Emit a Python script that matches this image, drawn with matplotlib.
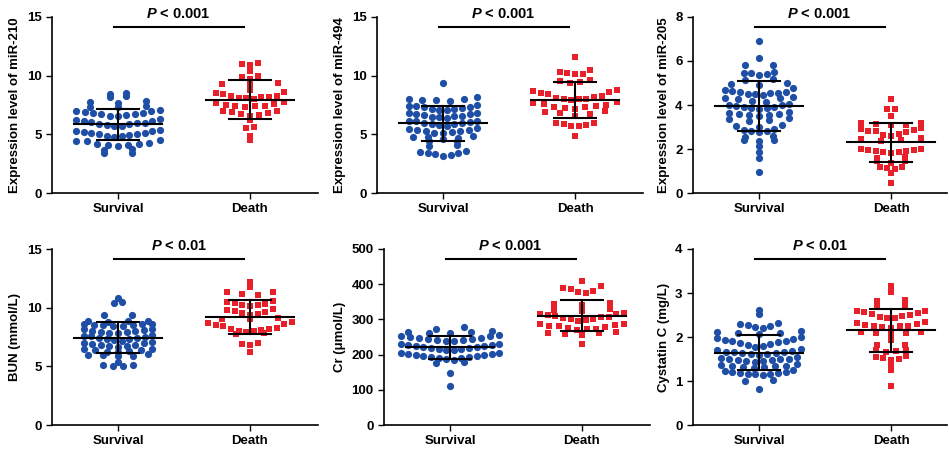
import numpy as np
import matplotlib.pyplot as plt

plt.rcParams['font.family'] = ['Liberation Sans', 'DejaVu Sans']
plt.rcParams['font.weight'] = 'bold'
plt.rcParams['axes.labelweight'] = 'bold'
plt.rcParams['mathtext.fontset'] = 'custom'
plt.rcParams['mathtext.it'] = 'Liberation Sans:italic:bold'
plt.rcParams['mathtext.rm'] = 'Liberation Sans:bold'

groups = ['Survival', 'Death']

# values (one line per visible row of dots)
mir210_surv = [3.4, 3.45,
               3.7, 3.75,
               4.0, 4.05, 4.1, 4.15, 4.2, 4.3, 4.4, 4.45, 4.5,
               4.8, 4.85, 4.9, 4.95, 5.0, 5.05, 5.1, 5.15, 5.2, 5.25, 5.3, 5.4,
               5.7, 5.75, 5.8, 5.85, 5.9, 5.95, 6.0, 6.05, 6.1, 6.15, 6.2, 6.3,
               6.55, 6.6, 6.65, 6.7, 6.75, 6.8, 6.85, 6.9, 6.95, 7.0, 7.05,
               7.3, 7.35, 7.4,
               7.7, 7.75, 7.8,
               8.2, 8.3, 8.45, 8.5]
mir210_death = [4.5, 4.7, 4.9,
                5.5, 5.6,
                6.2,
                6.6, 6.65, 6.75, 6.8, 6.9, 6.95, 7.0,
                7.35, 7.4, 7.4, 7.45, 7.5, 7.55, 7.65, 7.75,
                8.05, 8.1, 8.1, 8.15, 8.2, 8.25, 8.3, 8.4, 8.5, 8.6,
                8.8,
                9.2, 9.25, 9.35,
                9.7, 9.85, 9.95,
                10.4, 10.55,
                10.95, 11.0, 11.1]

mir494_surv = [3.15, 3.25, 3.3, 3.4, 3.4, 3.5, 3.55,
               4.0, 4.05,
               4.4, 4.45, 4.6, 4.65, 4.75, 4.8, 4.85,
               5.1, 5.15, 5.2, 5.25, 5.3, 5.35, 5.4, 5.45, 5.5,
               5.75, 5.8, 5.85, 5.9, 5.95, 6.0, 6.05, 6.1, 6.15, 6.15,
               6.4, 6.45, 6.5, 6.55, 6.6, 6.65, 6.7, 6.75, 6.8, 6.8,
               7.05, 7.1, 7.15, 7.2, 7.25, 7.3, 7.35, 7.4, 7.45, 7.5,
               7.8, 7.9, 7.95, 8.0, 8.05, 8.15,
               9.4]
mir494_death = [4.9,
                5.7, 5.7, 5.8, 5.9, 6.0, 6.0,
                6.6, 6.7, 6.8, 6.9, 7.0,
                7.2, 7.25, 7.3, 7.35, 7.4, 7.5, 7.6, 7.7, 7.75,
                7.95, 8.0, 8.0, 8.05, 8.1, 8.2, 8.3, 8.4, 8.5, 8.6, 8.7, 8.8,
                9.4, 9.45, 9.55, 9.65,
                10.1, 10.15, 10.25, 10.35, 10.45,
                11.6]

mir205_surv = [0.95, 1.6, 1.85, 2.15,
               2.35, 2.4, 2.4,
               2.55, 2.6,
               2.75, 2.8, 2.8, 2.85, 2.9,
               3.0, 3.05, 3.1,
               3.25, 3.3, 3.35, 3.4,
               3.5, 3.55, 3.55, 3.6, 3.6, 3.65, 3.7,
               3.8, 3.85, 3.85, 3.9, 3.9, 3.95, 4.0, 4.0, 4.05,
               4.15, 4.2, 4.25, 4.3, 4.3, 4.35,
               4.45, 4.5, 4.5, 4.55, 4.55, 4.6, 4.6, 4.65, 4.7, 4.75,
               4.9, 4.95, 5.0,
               5.15, 5.2,
               5.35, 5.4, 5.45, 5.45, 5.5,
               5.8, 5.8, 6.15, 6.9]
mir205_death = [0.45, 0.9,
                1.1, 1.15, 1.2, 1.2,
                1.35, 1.45, 1.45,
                1.6, 1.65,
                1.8, 1.85, 1.85, 1.9, 1.9, 1.95, 1.95, 2.0, 2.0,
                2.35, 2.4, 2.45, 2.5,
                2.6, 2.65, 2.7, 2.75, 2.8, 2.8, 2.85, 2.9, 2.95,
                3.1, 3.1, 3.15, 3.2, 3.2,
                3.5, 3.8, 3.8, 4.25]

bun_surv = [5.0, 5.05, 5.1, 5.1,
            5.4,
            5.85, 5.9, 5.95, 6.0, 6.05,
            6.2, 6.25, 6.3, 6.35, 6.4, 6.45, 6.5,
            6.65, 6.7, 6.75, 6.8, 6.85, 6.9, 6.95, 7.0, 7.05,
            7.2, 7.25, 7.3, 7.35, 7.4, 7.45, 7.5, 7.55, 7.6, 7.65,
            7.8, 7.85, 7.9, 7.95, 8.0, 8.05, 8.1, 8.15, 8.2,
            8.4, 8.45, 8.5, 8.5, 8.55, 8.6, 8.6, 8.65,
            8.8, 8.85, 8.9, 8.9,
            9.4, 9.4,
            10.4, 10.5,
            10.85]
bun_death = [6.2,
             6.8, 6.9, 6.95,
             7.75, 7.8,
             7.95, 8.0, 8.05, 8.1, 8.15, 8.2, 8.3, 8.4, 8.5, 8.6, 8.7, 8.8,
             9.0, 9.05, 9.1,
             9.4, 9.5, 9.55, 9.6, 9.7, 9.8, 9.9,
             10.1, 10.2, 10.25, 10.3, 10.4, 10.5, 10.6,
             11.1, 11.2, 11.3, 11.35,
             11.8, 12.15]

cr_surv = [112, 147, 175, 178,
           186, 187.5, 189, 190.5, 192, 193.5, 195, 196.5, 198, 199.5, 201, 202.5, 204, 205.5,
           212, 213.5, 215, 216.5, 218, 219.5, 221, 222.5, 224, 225.5, 227, 228.5, 230, 231.5,
           238, 239.5, 241, 242.5, 244, 245.5, 247, 248.5, 250, 251.5, 253, 254.5,
           260, 261.5, 263, 264.5, 266,
           274, 278]
cr_death = [229,
            256, 258, 260, 262, 264,
            270, 272, 274, 276, 278, 280, 282, 284, 286, 288,
            296, 298, 300, 302, 304, 306, 308, 310, 312, 314, 316, 318,
            324, 327, 330,
            340, 344, 348,
            374, 378, 382, 386, 390, 394,
            409]

cysc_surv = [0.82, 1.0, 1.02,
             1.14, 1.15, 1.16, 1.17, 1.18, 1.19, 1.2, 1.21, 1.22, 1.24,
             1.3, 1.31, 1.32, 1.33, 1.34, 1.35, 1.36, 1.38,
             1.44, 1.45, 1.46, 1.47, 1.48, 1.49, 1.5, 1.51, 1.52, 1.54,
             1.6, 1.61, 1.62, 1.63, 1.64, 1.65, 1.66, 1.67, 1.68, 1.7, 1.72,
             1.78, 1.8, 1.82, 1.84, 1.86, 1.88, 1.9, 1.92, 1.94, 1.96, 1.98, 2.0,
             2.06, 2.08, 2.1, 2.12, 2.14,
             2.21, 2.23, 2.25, 2.27, 2.29, 2.31,
             2.52, 2.61]
cysc_death = [0.89, 1.25, 1.36,
              1.48, 1.5, 1.52, 1.54, 1.57,
              1.66, 1.68, 1.7, 1.7,
              1.82, 1.82,
              1.93,
              2.06, 2.08, 2.1, 2.12, 2.12,
              2.2, 2.22, 2.24, 2.26, 2.26, 2.28, 2.3, 2.32, 2.34,
              2.44, 2.44, 2.46, 2.48, 2.5, 2.52, 2.54, 2.56, 2.58, 2.6,
              2.68, 2.7,
              2.82, 2.84,
              3.03, 3.17]

ylabels = ['Expression level of miR-210', 'Expression level of miR-494',
           'Expression level of miR-205', 'BUN (mmol/L)', 'Cr (\u03bcmol/L)',
           'Cystatin C (mg/L)']
ymaxes = [15, 15, 8, 15, 500, 4]
ysteps = [5, 5, 2, 5, 100, 1]
pvalues = ['< 0.001', '< 0.001', '< 0.001', '< 0.01', '< 0.001', '< 0.01']

data = [(mir210_surv, mir210_death), (mir494_surv, mir494_death),
        (mir205_surv, mir205_death), (bun_surv, bun_death),
        (cr_surv, cr_death), (cysc_surv, cysc_death)]

W, H = 949, 450
# axes boxes in pixels: left, top, width (height is the same for all)
boxes = [(52, 17, 266), (377, 17, 266), (693, 17, 254),
         (52, 249, 266), (384, 249, 266), (693, 249, 254)]
AX_H = 176
UNIT = 132  # pixels per category step

BLUE = '#1f4ea6'
RED = '#e8202a'


def rows_layout(values, scale, gap=1.6, step=7.6, maxstep=28, window=14):
    # Prism-like scatter: values close together form a row; rows spread to the
    # local width of the cloud, lowest value of a row sits in the middle
    ys = np.asarray(values, dtype=float) * scale
    order = np.argsort(ys, kind='stable')
    rows = []
    prev = None
    for i in order:
        if prev is None or ys[i] - prev > gap:
            rows.append([i])
        else:
            rows[-1].append(i)
        prev = ys[i]
    centres = [ys[r].mean() for r in rows]
    counts = [len(r) for r in rows]
    xs = np.zeros(len(ys))
    for r, idx in enumerate(rows):
        n = len(idx)
        if n == 1:
            continue
        env = max(c for c, y in zip(counts, centres) if abs(y - centres[r]) <= window)
        hw = max((n - 1) / 2 * step, min((env - 1) / 2 * step, (n - 1) / 2 * maxstep))
        pos = np.linspace(-hw, hw, n)
        slots = np.argsort(np.abs(pos), kind='stable')
        for j, i in enumerate(idx):
            xs[i] = pos[slots[j]]
    return xs


fig = plt.figure(figsize=(W / 100, H / 100), dpi=100)

for k, (left, top, width) in enumerate(boxes):
    ax = fig.add_axes([left / W, 1 - (top + AX_H) / H, width / W, AX_H / H])
    ymax = ymaxes[k]
    ax.set_xlim(-0.5, -0.5 + width / UNIT)
    ax.set_ylim(0, ymax)

    for g, vals in enumerate(data[k]):
        offs = rows_layout(vals, AX_H / ymax) / UNIT
        if g == 0:
            ax.scatter(g + offs, vals, s=27, marker='o', color=BLUE, linewidths=0, zorder=2)
        else:
            ax.scatter(g + offs, vals, s=25, marker='s', color=RED, linewidths=0, zorder=2)
        m = np.mean(vals)
        sd = np.std(vals, ddof=1)
        ax.plot([g - 0.33, g + 0.33], [m, m], color='black', lw=1.5, zorder=3)
        ax.plot([g, g], [m - sd, m + sd], color='black', lw=1.5, zorder=3)
        for yy in (m - sd, m + sd):
            ax.plot([g - 0.16, g + 0.16], [yy, yy], color='black', lw=1.5, zorder=3)

    # significance bar
    ax.plot([-0.03, 0.955], [ymax * 0.943, ymax * 0.943], color='black', lw=1.5,
            clip_on=False)
    ax.text(0.46, ymax * 0.975, r'$P$ ' + pvalues[k], ha='center', va='bottom',
            fontsize=10.5, fontweight='bold', clip_on=False)

    ax.set_xticks([0, 1])
    ax.set_xticklabels(groups)
    ax.set_yticks(np.arange(0, ymax + ysteps[k] / 2, ysteps[k]))
    ax.set_ylabel(ylabels[k], fontsize=9.5, fontweight='bold')
    ax.tick_params(labelsize=9.5, width=1.0, length=4, direction='out')
    for lab in ax.get_xticklabels() + ax.get_yticklabels():
        lab.set_fontweight('bold')
    for s in ['top', 'right']:
        ax.spines[s].set_visible(False)
    for s in ['left', 'bottom']:
        ax.spines[s].set_linewidth(1.2)

fig.savefig('out.png', dpi=100)
